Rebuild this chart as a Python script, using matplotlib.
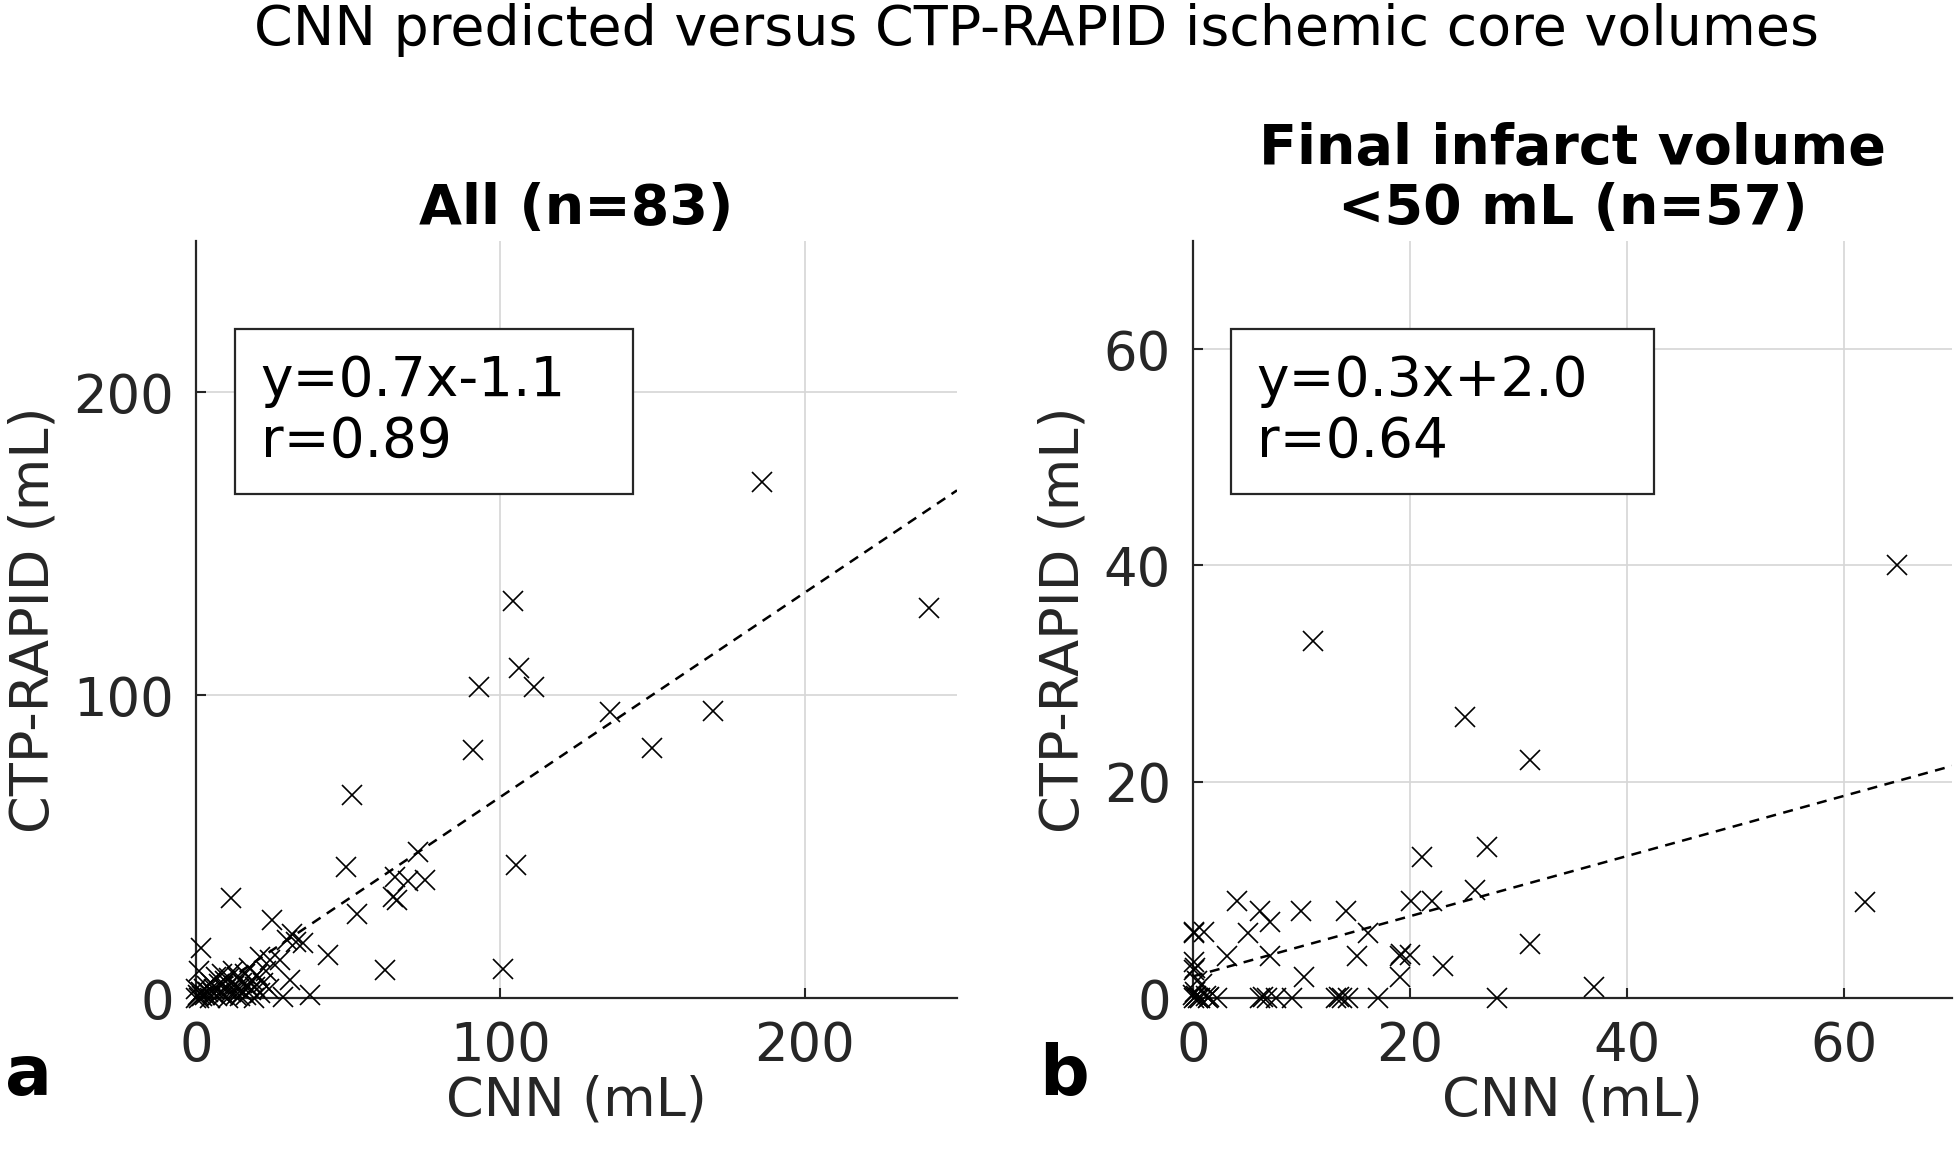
import matplotlib
matplotlib.use("Agg")
import matplotlib.pyplot as plt
from matplotlib.patches import Rectangle
import numpy as np

plt.rcParams["font.family"] = ["DejaVu Sans"]

# panel a: all patients (n=83), CNN vs CTP-RAPID core volume (mL)
all_cnn = [
    185.8, 240.7, 104.0, 106.0, 111.0, 93.0, 91.0, 136.0, 169.9, 149.9,
    105.1, 101.0, 51.3, 49.2, 73.0, 75.2, 65.4, 69.5, 64.8, 66.0,
    52.8, 43.5, 62.1, 11.5, 1.5, 24.9, 31.4, 29.8, 33.0, 35.2,
    37.4, 28.7, 30.9, 21.0, 24.3, 27.6,
    0.0, 0.5, 1.0, 1.5, 2.0, 2.5, 3.0, 3.5, 4.0, 4.5,
    5.0, 5.5, 6.0, 6.5, 7.0, 7.5, 8.0, 8.5, 9.0, 9.5,
    10.0, 10.5, 11.0, 11.5, 12.0, 12.5, 13.0, 13.5, 14.0, 14.5,
    15.0, 15.5, 16.0, 16.5, 17.0, 17.5, 18.0, 18.5, 19.0, 19.5,
    20.0, 21.0, 22.0, 23.0, 24.0, 0.0, 1.0,
]
all_rapid = [
    170.3, 128.7, 131.0, 109.1, 102.8, 102.8, 82.0, 94.3, 94.9, 82.7,
    44.0, 9.7, 67.1, 43.1, 48.2, 38.9, 40.0, 38.5, 33.4, 32.5,
    27.9, 14.2, 9.2, 33.0, 16.4, 25.7, 21.3, 19.1, 18.5, 18.0,
    1.0, 0.4, 5.9, 13.6, 12.5, 12.5,
    0.0, 1.0, 0.0, 2.0, 0.5, 3.0, 1.0, 4.0, 2.0, 0.0,
    5.0, 1.5, 3.0, 7.0, 0.5, 4.5, 2.0, 8.0, 1.0, 5.5,
    3.0, 0.0, 6.5, 2.0, 9.0, 4.0, 1.0, 7.0, 3.0, 0.5,
    5.0, 2.0, 8.0, 1.0, 4.0, 10.0, 2.5, 6.0, 0.0, 3.5,
    7.5, 1.5, 5.0, 9.0, 3.0, 3.0, 9.0,
]
all_fit = (0.675, -1.1)          # slope, intercept of the dashed line
all_text = "y=0.7x-1.1\nr=0.89"

# panel b: final infarct volume < 50 mL (n=57)
sub_cnn = [
    0.5, 1.4, 2.2, 6.2, 6.8, 7.7, 9.1, 13.2, 13.7, 14.3, 17.1, 28.0, 37.0,
    0.1, 1.0, 0.1, 0.1, 0.8, 3.1, 4.1, 5.1, 6.2, 7.1, 7.1, 10.0,
    10.2, 14.1, 15.1, 16.1, 19.1, 20.0, 19.1, 20.1, 22.0, 21.1,
    23.1, 26.0, 27.1, 31.1, 31.1, 25.1, 11.1, 64.9, 62.0,
    0.1, 0.3, 0.6, 0.2, 1.2, 0.4, 0.2, 1.5, 6.5, 13.5, 0.1, 19.2, 0.0,
]
sub_rapid = [
    0.0, 0.0, 0.0, 0.0, 0.0, 0.0, 0.0, 0.0, 0.0, 0.0, 0.0, 0.0, 1.0,
    6.1, 6.1, 3.3, 2.6, 1.3, 3.9, 9.0, 6.0, 8.0, 7.0, 3.9, 8.0,
    1.9, 8.0, 3.9, 6.0, 3.9, 4.0, 1.9, 9.0, 9.0, 13.0,
    3.0, 10.0, 14.0, 5.0, 22.0, 26.0, 33.0, 40.0, 8.9,
    0.0, 0.2, 0.0, 0.6, 0.2, 1.6, 2.8, 0.1, 0.1, 0.1, 6.0, 4.1, 0.3,
]
sub_fit = (0.278, 2.0)
sub_text = "y=0.3x+2.0\nr=0.64"

W, H = 1956, 1150
fig = plt.figure(figsize=(W / 100, H / 100), dpi=100)

dark = "#262626"
panels = [
    dict(rect=[196 / W, 152 / H, 761 / W, 757 / H], x=all_cnn, y=all_rapid,
         fit=all_fit, txt=all_text, lim=250, ticks=[0, 100, 200],
         title="All (n=83)", box=(0.051, 0.666, 0.523, 0.218), letter="a", lx=29),
    dict(rect=[1193 / W, 152 / H, 759 / W, 757 / H], x=sub_cnn, y=sub_rapid,
         fit=sub_fit, txt=sub_text, lim=70, ticks=[0, 20, 40, 60],
         title="Final infarct volume\n<50 mL (n=57)", box=(0.050, 0.666, 0.557, 0.218),
         letter="b", lx=1064),
]

for p in panels:
    ax = fig.add_axes(p["rect"])
    ax.set_xlim(0, p["lim"])
    ax.set_ylim(0, p["lim"])
    ax.set_xticks(p["ticks"])
    ax.set_yticks(p["ticks"])
    ax.grid(True, color="#d6d6d6", lw=1.2)
    ax.set_axisbelow(True)
    for s in ["top", "right"]:
        ax.spines[s].set_visible(False)
    for s in ["left", "bottom"]:
        ax.spines[s].set_color(dark)
        ax.spines[s].set_linewidth(1.6)
    ax.tick_params(direction="in", length=7, width=1.5, color=dark,
                   labelsize=38, labelcolor=dark, pad=16)

    ax.plot(p["x"], p["y"], "x", color="k", ms=14, mew=1.2, clip_on=False, zorder=3)

    xs = np.array([0, p["lim"]])
    ax.plot(xs, p["fit"][0] * xs + p["fit"][1], color="k", lw=1.8,
            ls=(0, (4, 3)), zorder=2)

    bx, by, bw, bh = p["box"]
    ax.add_patch(Rectangle((bx, by), bw, bh, transform=ax.transAxes,
                           facecolor="white", edgecolor=dark, lw=1.6, zorder=4))
    ax.text(bx + 0.034, by + bh / 2, p["txt"], transform=ax.transAxes,
            fontsize=39.5, va="center", ha="left", color="k", zorder=5,
            linespacing=1.15)

    ax.set_xlabel("CNN (mL)", fontsize=39, color=dark, labelpad=2)
    ax.set_ylabel("CTP-RAPID (mL)", fontsize=39, color=dark, labelpad=10)
    ax.set_title(p["title"], fontsize=40, fontweight="bold", pad=12, linespacing=1.15)

    fig.text(p["lx"] / W, 1 - 1075 / H, p["letter"], fontsize=50,
             fontweight="bold", ha="center", va="center")

fig.text(1036 / W, 1 - 45 / H, "CNN predicted versus CTP-RAPID ischemic core volumes",
         fontsize=40, ha="center", va="baseline", color="k")

fig.savefig("out.png", dpi=100, facecolor="white")
